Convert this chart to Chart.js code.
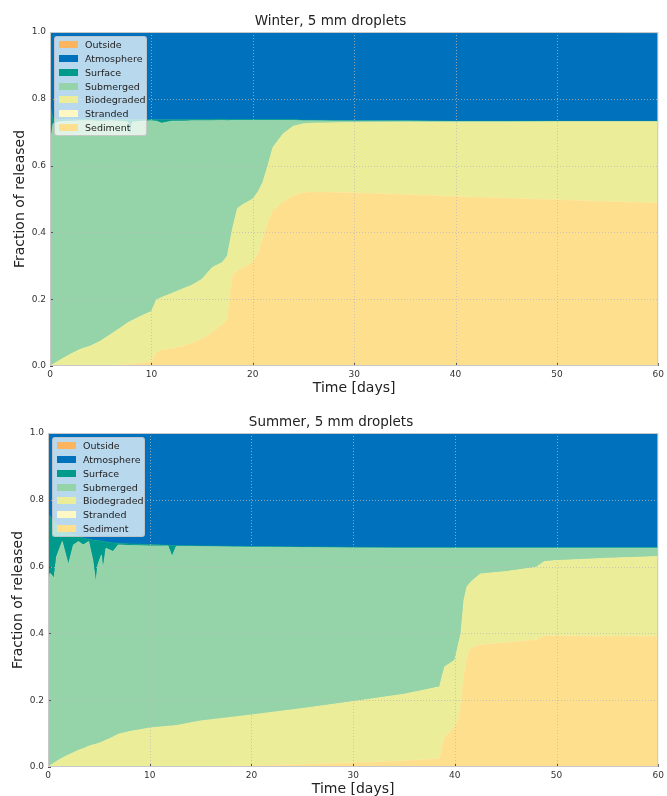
<!DOCTYPE html>
<html>
<head>
<meta charset="utf-8">
<script src="https://cdn.jsdelivr.net/npm/chart.js@4.4.0/dist/chart.umd.min.js"></script>
<style>
  body { margin: 0; background: #fff; }
  #wrap { position: relative; width: 667px; height: 796px; }
  .panel { position: absolute; left: 0; width: 667px; height: 395px; }
  .legend {
    position: absolute; box-sizing: border-box; width: 93px; padding: 1px 4px;
    background: rgba(255,255,255,0.72); border: 1px solid rgba(190,190,190,0.8); border-radius: 3px;
    font-family: 'DejaVu Sans', sans-serif; font-size: 9.5px; color: #222;
  }
  .legend .row { display: flex; align-items: center; height: 13.75px; white-space: nowrap; }
  .legend .sw { width: 19px; height: 7px; margin-right: 7px; flex: none; }
</style>
</head>
<body>
<div id="wrap">
  <div class="panel" style="top:0">
    <canvas id="winter" width="667" height="395"></canvas>
    <div class="legend" id="legWinter" style="left:54px; top:36px"></div>
  </div>
  <div class="panel" style="top:401px">
    <canvas id="summer" width="667" height="395"></canvas>
    <div class="legend" id="legSummer" style="left:52px; top:36px"></div>
  </div>
</div>
<script>
// layers from bottom to top of the stack
const layerNames = ['Sediment', 'Stranded', 'Biodegraded', 'Submerged', 'Surface', 'Atmosphere', 'Outside'];
const layerColors = ['#fddf8e', '#fff7c4', '#ebed98', '#95d4a9', '#009a8c', '#0072bd', '#fdb45e'];

const xTicks = [0, 10, 20, 30, 40, 50, 60];
const yTicks = [0, 0.2, 0.4, 0.6, 0.8, 1.0];

// Winter, 5 mm droplets
const winterDays = [0, 0.3, 1, 2, 3, 4, 5, 6, 7, 7.7, 7.9, 8.1, 9, 10, 10.5, 11, 12, 13, 14, 15, 16, 17, 17.5, 18, 18.5, 19, 20, 20.5, 21, 21.5, 22, 23, 24, 25, 26, 30, 35, 40, 45, 50, 55, 60];
const winterSediment = [0, 0, 0, 0, 0, 0, 0, 0, 0.003, 0.004, 0.004, 0.005, 0.008, 0.012, 0.040, 0.048, 0.052, 0.058, 0.068, 0.080, 0.100, 0.125, 0.140, 0.270, 0.285, 0.293, 0.310, 0.335, 0.380, 0.430, 0.465, 0.490, 0.510, 0.518, 0.520, 0.518, 0.513, 0.507, 0.502, 0.497, 0.492, 0.488];
const winterStranded = [0, 0, 0, 0, 0, 0, 0, 0, 0, 0, 0, 0, 0, 0, 0, 0, 0, 0, 0, 0, 0, 0, 0, 0, 0, 0, 0, 0, 0, 0, 0, 0, 0, 0, 0, 0, 0, 0, 0, 0, 0, 0];
const winterBiodegraded = [0, 0.005, 0.018, 0.035, 0.050, 0.060, 0.075, 0.095, 0.112, 0.126, 0.129, 0.131, 0.142, 0.151, 0.158, 0.157, 0.165, 0.172, 0.174, 0.180, 0.195, 0.185, 0.190, 0.140, 0.187, 0.190, 0.190, 0.185, 0.170, 0.170, 0.190, 0.205, 0.208, 0.207, 0.207, 0.211, 0.217, 0.223, 0.228, 0.234, 0.239, 0.243];
const winterSubmerged = [0.660, 0.720, 0.714, 0.698, 0.684, 0.674, 0.658, 0.639, 0.618, 0.600, 0.547, 0.594, 0.583, 0.571, 0.535, 0.522, 0.516, 0.503, 0.492, 0.474, 0.439, 0.425, 0.404, 0.325, 0.263, 0.252, 0.235, 0.215, 0.185, 0.135, 0.080, 0.040, 0.017, 0.009, 0.007, 0.004, 0.003, 0.002, 0.002, 0.001, 0.001, 0.001];
const winterSurface = [0.120, 0.015, 0.006, 0.004, 0.004, 0.004, 0.004, 0.004, 0.004, 0.007, 0.057, 0.007, 0.004, 0.004, 0.004, 0.010, 0.004, 0.004, 0.004, 0.004, 0.004, 0.004, 0.004, 0.003, 0.003, 0.003, 0.003, 0.003, 0.003, 0.003, 0.003, 0.003, 0.003, 0.002, 0.002, 0.001, 0.001, 0.001, 0.001, 0.001, 0.001, 0.001];
const winterAtmosphere = [0.220, 0.260, 0.262, 0.263, 0.262, 0.262, 0.263, 0.262, 0.263, 0.263, 0.263, 0.263, 0.263, 0.262, 0.263, 0.263, 0.263, 0.263, 0.262, 0.262, 0.262, 0.261, 0.262, 0.262, 0.262, 0.262, 0.262, 0.262, 0.262, 0.262, 0.262, 0.262, 0.262, 0.264, 0.264, 0.266, 0.266, 0.266, 0.265, 0.264, 0.264, 0.263];
const winterOutside = [0, 0, 0, 0, 0, 0, 0, 0, 0, 0, 0, 0, 0, 0, 0, 0, 0, 0, 0, 0, 0, 0, 0, 0, 0, 0, 0, 0, 0, 0, 0, 0, 0, 0, 0, 0, 0, 0.001, 0.002, 0.003, 0.003, 0.004];

// Summer, 5 mm droplets
const summerDays = [0, 0.2, 0.6, 0.85, 1.4, 2.0, 2.5, 3.0, 3.45, 4.0, 4.4, 4.7, 4.9, 5.25, 5.4, 5.7, 6.4, 6.9, 8, 10, 11.8, 12.2, 12.6, 15, 20, 25, 30, 35, 38.5, 39, 39.5, 40, 40.3, 40.6, 40.9, 41.2, 41.6, 42.5, 45, 48, 48.8, 50, 55, 60];
const summerSediment = [0, 0, 0, 0, 0, 0, 0, 0, 0, 0, 0, 0, 0, 0, 0, 0, 0, 0, 0, 0, 0, 0, 0, 0.001, 0.003, 0.007, 0.012, 0.018, 0.025, 0.090, 0.105, 0.120, 0.140, 0.190, 0.270, 0.330, 0.356, 0.365, 0.372, 0.380, 0.392, 0.392, 0.391, 0.390];
const summerStranded = [0, 0, 0, 0, 0, 0, 0, 0, 0, 0, 0, 0, 0, 0, 0, 0, 0, 0, 0, 0, 0, 0, 0, 0, 0, 0, 0, 0, 0, 0, 0, 0, 0, 0, 0, 0, 0, 0, 0, 0, 0, 0, 0, 0];
const summerBiodegraded = [0, 0.004, 0.012, 0.017, 0.027, 0.036, 0.043, 0.050, 0.055, 0.062, 0.066, 0.068, 0.070, 0.074, 0.076, 0.080, 0.090, 0.098, 0.106, 0.117, 0.122, 0.123, 0.124, 0.137, 0.153, 0.168, 0.184, 0.200, 0.215, 0.210, 0.205, 0.200, 0.220, 0.210, 0.230, 0.210, 0.199, 0.213, 0.213, 0.218, 0.223, 0.226, 0.234, 0.240];
const summerSubmerged = [0.540, 0.576, 0.554, 0.613, 0.648, 0.569, 0.622, 0.625, 0.610, 0.613, 0.554, 0.482, 0.535, 0.561, 0.514, 0.575, 0.555, 0.567, 0.557, 0.545, 0.540, 0.507, 0.536, 0.522, 0.502, 0.482, 0.460, 0.437, 0.415, 0.355, 0.345, 0.335, 0.295, 0.255, 0.155, 0.115, 0.100, 0.077, 0.070, 0.057, 0.040, 0.037, 0.030, 0.025];
const summerSurface = [0.215, 0.170, 0.169, 0.095, 0.035, 0.095, 0.030, 0.015, 0.021, 0.007, 0.060, 0.129, 0.073, 0.042, 0.086, 0.019, 0.026, 0.005, 0.005, 0.004, 0.002, 0.033, 0.003, 0.002, 0.002, 0.002, 0.002, 0.002, 0.002, 0.002, 0.002, 0.002, 0.002, 0.002, 0.002, 0.002, 0.002, 0.002, 0.002, 0.002, 0.002, 0.002, 0.002, 0.002];
const summerAtmosphere = [0.245, 0.250, 0.265, 0.275, 0.290, 0.300, 0.305, 0.310, 0.314, 0.318, 0.320, 0.321, 0.322, 0.323, 0.324, 0.326, 0.329, 0.330, 0.332, 0.334, 0.336, 0.337, 0.337, 0.338, 0.340, 0.341, 0.342, 0.343, 0.343, 0.343, 0.343, 0.343, 0.343, 0.343, 0.343, 0.343, 0.343, 0.343, 0.343, 0.343, 0.343, 0.343, 0.343, 0.343];
const summerOutside = [0, 0, 0, 0, 0, 0, 0, 0, 0, 0, 0, 0, 0, 0, 0, 0, 0, 0, 0, 0, 0, 0, 0, 0, 0, 0, 0, 0, 0, 0, 0, 0, 0, 0, 0, 0, 0, 0, 0, 0, 0, 0, 0, 0];

Chart.defaults.font.family = "'DejaVu Sans', sans-serif";
Chart.defaults.color = '#333';

// dotted grid over the areas, plot frame and small inward ticks
const frameAndTicks = {
  id: 'frameAndTicks',
  afterDatasetsDraw(chart) {
    const { ctx, chartArea: a, scales: { x, y } } = chart;
    ctx.save();
    ctx.strokeStyle = 'rgba(185,185,185,0.75)';
    ctx.lineWidth = 1;
    ctx.setLineDash([1, 2]);
    ctx.beginPath();
    xTicks.slice(1, -1).forEach(v => {
      const px = Math.round(x.getPixelForValue(v)) + 0.5;
      ctx.moveTo(px, a.top); ctx.lineTo(px, a.bottom);
    });
    yTicks.slice(1, -1).forEach(v => {
      const py = Math.round(y.getPixelForValue(v)) + 0.5;
      ctx.moveTo(a.left, py); ctx.lineTo(a.right, py);
    });
    ctx.stroke();
    ctx.restore();
  },
  afterDraw(chart) {
    const { ctx, chartArea: a, scales: { x, y } } = chart;
    ctx.save();
    ctx.strokeStyle = '#555';
    ctx.lineWidth = 1;
    ctx.beginPath();
    xTicks.forEach(v => {
      const px = Math.round(x.getPixelForValue(v)) + 0.5;
      ctx.moveTo(px, a.bottom); ctx.lineTo(px, a.bottom - 3);
    });
    yTicks.forEach(v => {
      const py = Math.round(y.getPixelForValue(v)) + 0.5;
      ctx.moveTo(a.left, py); ctx.lineTo(a.left + 3, py);
    });
    ctx.stroke();
    ctx.strokeStyle = '#c8c8c8';
    ctx.strokeRect(a.left + 0.5, a.top + 0.5, a.width - 1, a.height - 1);
    ctx.restore();
  }
};

function makeChart(id, title, days, layers, yWidth, padRight, yTitlePad) {
  const datasets = layers.map((vals, i) => ({
    label: layerNames[i],
    data: days.map((d, j) => ({ x: d, y: vals[j] })),
    backgroundColor: layerColors[i],
    borderColor: layerColors[i],
    borderWidth: 0.8,
    pointRadius: 0,
    tension: 0,
    fill: i === 0 ? 'origin' : '-1'
  }));

  return new Chart(document.getElementById(id), {
    type: 'line',
    data: { datasets },
    options: {
      responsive: false,
      animation: false,
      events: [],
      layout: { padding: { left: 0, right: padRight, top: 0, bottom: 0 } },
      plugins: {
        legend: { display: false },
        tooltip: { enabled: false },
        title: {
          display: true,
          text: title,
          color: '#222',
          font: { size: 13.5, weight: 'normal' },
          padding: { top: 12.9, bottom: 2.9 }
        }
      },
      scales: {
        x: {
          type: 'linear',
          min: 0, max: 60,
          afterBuildTicks: s => { s.ticks = xTicks.map(v => ({ value: v })); },
          afterFit: s => { s.height = 29; },
          ticks: { font: { size: 9 }, padding: 3, color: '#333', callback: v => String(v) },
          grid: { display: false, drawTicks: false },
          border: { display: false },
          title: { display: true, text: 'Time [days]', color: '#222', font: { size: 14, lineHeight: 1 }, padding: { top: 0, bottom: 0 } }
        },
        y: {
          stacked: true,
          min: 0, max: 1,
          afterBuildTicks: s => { s.ticks = yTicks.map(v => ({ value: v })); },
          afterFit: s => { s.width = yWidth; },
          ticks: { font: { size: 9 }, padding: 4, color: '#333', callback: v => v.toFixed(1) },
          grid: { display: false, drawTicks: false },
          border: { display: false },
          title: { display: true, text: 'Fraction of released', color: '#222', font: { size: 14 }, padding: { top: yTitlePad, bottom: 0 } }
        }
      }
    },
    plugins: [frameAndTicks]
  });
}

function buildLegend(id) {
  const box = document.getElementById(id);
  // top of the stack first, as in the picture
  for (let i = layerNames.length - 1; i >= 0; i--) {
    const row = document.createElement('div');
    row.className = 'row';
    const sw = document.createElement('span');
    sw.className = 'sw';
    sw.style.background = layerColors[i];
    const txt = document.createElement('span');
    txt.textContent = layerNames[i];
    row.appendChild(sw);
    row.appendChild(txt);
    box.appendChild(row);
  }
}

makeChart('winter', 'Winter, 5 mm droplets', winterDays,
  [winterSediment, winterStranded, winterBiodegraded, winterSubmerged, winterSurface, winterAtmosphere, winterOutside],
  50, 6, 12.4);
makeChart('summer', 'Summer, 5 mm droplets', summerDays,
  [summerSediment, summerStranded, summerBiodegraded, summerSubmerged, summerSurface, summerAtmosphere, summerOutside],
  48, 5, 10);
buildLegend('legWinter');
buildLegend('legSummer');
</script>
</body>
</html>
